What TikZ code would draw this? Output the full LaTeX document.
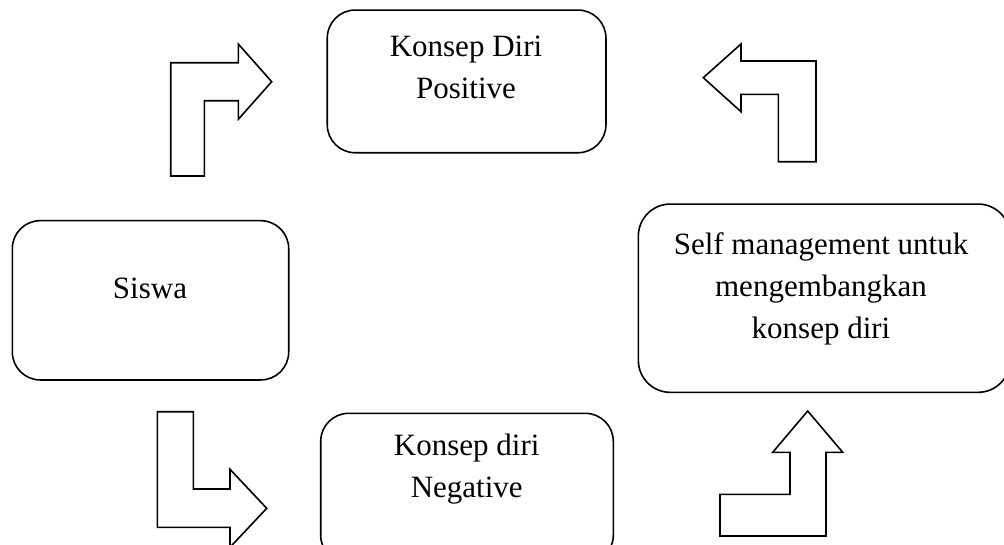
\documentclass[tikz,border=0pt]{standalone}
\usepackage{fontspec}
\setmainfont{Liberation Serif}
\begin{document}
\begin{tikzpicture}[x=1pt,y=-1pt,
  roundbox/.style={draw=black,line width=1.6pt,rounded corners=28pt,inner sep=0pt},
  boxtext/.style={anchor=north,inner sep=0pt,align=center,font=\fontsize{31}{42}\selectfont},
  blockarrow/.style={draw=black,line width=1.6pt,line join=miter,fill=white}]
\useasboundingbox (0,0) rectangle (1004,544);
\clip (0,0) rectangle (1004,544);
% boxes
\node[roundbox,minimum width=278.7pt,minimum height=142.7pt] (pos) at (466.6,81.4) {};
\node[roundbox,minimum width=276.4pt,minimum height=159.3pt] (sis) at (150.5,300.3) {};
\node[roundbox,rounded corners=32pt,minimum width=371.7pt,minimum height=188.3pt] (self) at (824.2,298.2) {};
\node[roundbox,minimum width=292.6pt,minimum height=150pt] (neg) at (467,488.3) {};
% texts
\node[boxtext] (posT) at (466,35.5) {Konsep Diri\\Positive};
\node[boxtext] (sisT) at (150,278.2) {Siswa};
\node[boxtext] (selfT) at (821,232.8) {Self management untuk\\mengembangkan\\konsep diri};
\node[boxtext] (negT) at (466.7,434) {Konsep diri\\Negative};
% block arrows
\draw[blockarrow] (170.7,176) -- (170.7,62.7) -- (238.3,62.7) -- (238.3,44) -- (271.7,81.7) -- (238.3,119.3) -- (238.3,100.7) -- (204.3,100.7) -- (204.3,176) -- cycle;
\draw[blockarrow] (703.3,77.7) -- (741,44) -- (741,61) -- (816,61) -- (816,161.7) -- (778.3,161.7) -- (778.3,94.3) -- (741,94.3) -- (741,111.7) -- cycle;
\draw[blockarrow] (157.3,411.7) -- (193.3,411.7) -- (193.3,489) -- (230,489) -- (230,469.3) -- (266.7,508.3) -- (230,547.3) -- (230,527.3) -- (157.3,527.3) -- cycle;
\draw[blockarrow] (720,536) -- (720,494.3) -- (790,494.3) -- (790,452.3) -- (772.7,452.3) -- (807.7,411) -- (842.7,452.3) -- (826,452.3) -- (826,536) -- cycle;
\end{tikzpicture}
\end{document}
